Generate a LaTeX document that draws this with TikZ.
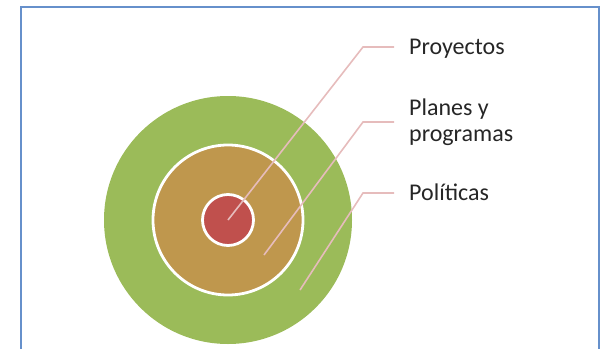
\documentclass[tikz,border=0pt]{standalone}
\usepackage{fontspec}
\setmainfont{Carlito}
\usepackage{tikz}
\usetikzlibrary{calc}
\usepackage{xcolor}
\definecolor{verde}{HTML}{9BBB59}
\definecolor{ocre}{HTML}{BF974D}
\definecolor{rojo}{HTML}{C0504D}
\definecolor{rosa}{HTML}{E6BCBC}
\definecolor{marco}{HTML}{6690CB}

\begin{document}
\begin{tikzpicture}[x=1pt,y=-1pt,
    anillo/.style={circle, draw=white, line width=2.8pt, inner sep=0pt},
    etiqueta/.style={anchor=base west, inner sep=0pt, font=\fontsize{24}{26.5}\selectfont, text=black!85},
    guia/.style={rosa, line width=1.6pt}]
        % Limitar la región de dibujo al tamaño de la figura
        \useasboundingbox (0,0) rectangle (602,348);
        \clip (0,0) rectangle (602,348);

        % Marco azul (abierto por abajo)
        \draw[marco, line width=2pt] (21,7) rectangle (599,380);

        % Centro común de los círculos
        \def\cx{228}
        \def\cy{220}

        % Círculos concéntricos: políticas > planes > proyectos
        \node[anillo, draw=none, fill=verde, minimum size=248pt] (politicas) at (\cx,\cy) {};
        \node[anillo, fill=ocre, minimum size=150pt] (planes) at (\cx,\cy) {};
        \node[anillo, fill=rojo, minimum size=51pt] (proyectos) at (\cx,\cy) {};

        % Puntos de donde salen las guías
        \coordinate (p1) at (proyectos.center);
        \coordinate (p2) at ($(planes.center)+(36,35)$);
        \coordinate (p3) at ($(politicas.center)+(72,70)$);

        % Extremos de las guías junto al texto
        \coordinate (e1) at (394,47);
        \coordinate (e2) at (394,122);
        \coordinate (e3) at (394,193);

        % Etiquetas
        \node[etiqueta] (tproy) at ([xshift=15pt,yshift=-7.5pt]e1) {Proyectos};
        \node[etiqueta, anchor=west, align=left] (tplan) at ([xshift=15pt]e2) {Planes y\\programas};
        \node[etiqueta] (tpol) at ([xshift=15pt,yshift=-7.5pt]e3) {Políticas};

        % Guías
        \draw[guia] (p1) -- ([xshift=-31pt]e1) -- (e1);
        \draw[guia] (p2) -- ([xshift=-31pt]e2) -- (e2);
        \draw[guia] (p3) -- ([xshift=-31pt]e3) -- (e3);
\end{tikzpicture}
\end{document}
